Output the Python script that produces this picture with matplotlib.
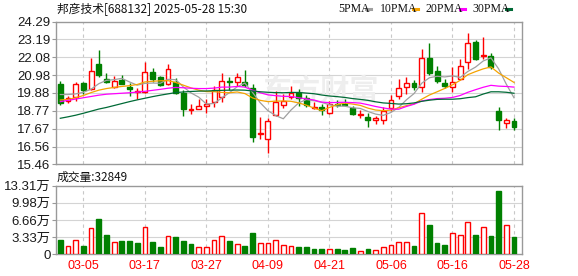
import numpy as np
import matplotlib
matplotlib.use('Agg')
import matplotlib.pyplot as plt
from matplotlib.lines import Line2D

# trading days 2025-02-28 .. 2025-05-28
dates = ['02-28', '03-03', '03-04', '03-05', '03-06', '03-07', '03-10', '03-11', '03-12', '03-13',
         '03-14', '03-17', '03-18', '03-19', '03-20', '03-21', '03-24', '03-25', '03-26', '03-27',
         '03-28', '03-31', '04-01', '04-02', '04-03', '04-07', '04-08', '04-09', '04-10', '04-11',
         '04-14', '04-15', '04-16', '04-17', '04-18', '04-21', '04-22', '04-23', '04-24', '04-25',
         '04-28', '04-29', '04-30', '05-06', '05-07', '05-08', '05-09', '05-12', '05-13', '05-14',
         '05-15', '05-16', '05-19', '05-20', '05-21', '05-22', '05-23', '05-26', '05-27', '05-28']

opens = [20.43, 19.40, 19.61, 20.49, 20.10, 21.69, 20.74, 20.27, 20.68, 20.27,
         19.96, 19.96, 21.18, 20.85, 20.43, 20.58, 19.88, 18.82, 18.86, 19.05,
         19.30, 19.61, 20.62, 20.58, 20.56, 20.16, 17.34, 17.01, 18.53, 19.14,
         19.65, 19.88, 19.57, 18.93, 19.01, 18.62, 19.22, 19.20, 18.93, 18.53,
         18.41, 18.20, 18.20, 18.93, 19.69, 20.23, 20.52, 20.27, 22.06, 21.24,
         20.52, 20.23, 20.72, 21.77, 23.05, 22.14, 22.16, 18.78, 18.04, 18.16]
highs = [20.62, 19.69, 20.54, 20.56, 22.04, 22.54, 21.12, 20.93, 20.97, 20.47,
         20.16, 21.79, 21.44, 20.93, 21.67, 20.78, 20.06, 19.17, 19.48, 19.48,
         20.33, 21.13, 20.87, 21.13, 21.30, 20.43, 18.37, 18.31, 20.02, 19.81,
         20.31, 20.12, 19.76, 19.34, 19.20, 19.38, 19.45, 19.48, 19.07, 18.84,
         18.62, 18.47, 19.01, 19.76, 20.72, 20.89, 20.68, 22.60, 22.99, 21.55,
         20.72, 21.51, 21.98, 23.57, 23.16, 23.36, 22.33, 19.01, 18.33, 18.33]
lows = [19.11, 19.24, 19.40, 19.81, 20.06, 20.85, 20.47, 20.20, 20.41, 19.71,
        19.50, 19.90, 20.58, 20.31, 20.37, 19.81, 18.47, 18.59, 18.86, 18.66,
        19.03, 19.30, 20.04, 20.31, 20.27, 16.82, 17.01, 16.19, 18.47, 18.94,
        19.53, 19.07, 19.01, 18.91, 18.49, 18.57, 19.01, 19.07, 18.53, 18.31,
        17.77, 17.98, 17.98, 18.78, 19.48, 19.81, 20.06, 19.96, 20.97, 20.49,
        20.16, 19.96, 20.68, 21.34, 21.92, 21.98, 21.34, 17.59, 17.69, 17.61]
closes = [19.28, 19.55, 20.41, 20.06, 21.24, 20.99, 20.58, 20.62, 20.45, 20.14,
          20.00, 21.15, 20.72, 20.39, 21.36, 19.88, 18.91, 18.88, 19.07, 19.22,
          20.06, 20.60, 20.56, 20.85, 20.37, 17.17, 17.38, 18.12, 19.34, 19.38,
          19.88, 19.59, 19.16, 19.01, 18.80, 19.20, 19.14, 19.12, 18.55, 18.60,
          18.20, 18.33, 18.78, 19.45, 20.16, 20.52, 20.27, 22.02, 21.13, 20.62,
          20.33, 20.56, 21.55, 22.97, 21.98, 22.23, 21.51, 18.18, 18.22, 17.75]
# volume in 10k shares
volumes = [2.75, 1.66, 2.69, 1.54, 5.12, 6.91, 3.65, 2.30, 2.50, 2.50,
           2.11, 5.31, 2.30, 1.34, 3.58, 3.26, 2.50, 1.92, 1.47, 1.47,
           2.82, 3.58, 2.50, 2.05, 1.54, 4.22, 2.24, 2.24, 2.82, 1.86,
           1.63, 1.47, 1.47, 1.09, 1.09, 1.02, 1.09, 0.90, 1.28, 0.64,
           1.09, 0.83, 1.41, 1.79, 2.43, 2.43, 1.66, 7.94, 5.70, 2.24,
           1.86, 4.10, 3.71, 6.21, 3.78, 5.38, 3.58, 12.22, 5.63, 3.2849]

ma5 = [19.78, 19.78, 19.82, 19.92, 20.11, 20.45, 20.66, 20.70, 20.78, 20.56,
       20.36, 20.47, 20.49, 20.48, 20.72, 20.70, 20.25, 19.88, 19.62, 19.19,
       19.23, 19.57, 19.90, 20.26, 20.49, 19.91, 19.27, 18.78, 18.48, 18.28,
       18.82, 19.26, 19.47, 19.40, 19.29, 19.15, 19.06, 19.06, 18.96, 18.92,
       18.73, 18.57, 18.49, 18.67, 18.98, 19.45, 19.84, 20.48, 20.82, 20.91,
       20.87, 20.93, 20.84, 21.21, 21.48, 21.86, 22.05, 21.37, 20.42, 19.58]
ma10 = [19.44, 19.48, 19.58, 19.72, 19.90, 20.05, 20.15, 20.22, 20.28, 20.33,
        20.40, 20.56, 20.60, 20.63, 20.64, 20.53, 20.36, 20.19, 20.05, 19.96,
        19.96, 19.91, 19.89, 19.94, 19.84, 19.57, 19.42, 19.34, 19.37, 19.38,
        19.36, 19.26, 19.12, 18.94, 18.78, 18.98, 19.16, 19.25, 19.19, 19.11,
        18.94, 18.82, 18.78, 18.82, 18.96, 19.09, 19.20, 19.49, 19.75, 19.95,
        20.16, 20.38, 20.66, 21.01, 21.20, 21.37, 21.49, 21.11, 20.82, 20.53]
ma20 = [19.34, 19.42, 19.50, 19.58, 19.66, 19.74, 19.80, 19.83, 19.86, 19.89,
        19.93, 19.98, 20.04, 20.10, 20.17, 20.22, 20.20, 20.17, 20.15, 20.15,
        20.18, 20.24, 20.24, 20.28, 20.24, 20.05, 19.89, 19.76, 19.71, 19.67,
        19.66, 19.58, 19.51, 19.44, 19.31, 19.28, 19.29, 19.30, 19.28, 19.25,
        19.15, 19.04, 18.95, 18.88, 18.87, 19.04, 19.18, 19.38, 19.47, 19.53,
        19.55, 19.60, 19.72, 19.92, 20.08, 20.23, 20.35, 20.30, 20.28, 20.24]
ma30 = [18.31, 18.40, 18.50, 18.62, 18.75, 18.88, 18.98, 19.10, 19.22, 19.34,
        19.45, 19.55, 19.65, 19.74, 19.82, 19.90, 19.94, 19.97, 19.99, 20.00,
        20.02, 20.04, 20.05, 20.06, 20.05, 20.00, 19.95, 19.92, 19.90, 19.89,
        19.91, 19.91, 19.87, 19.83, 19.75, 19.69, 19.65, 19.60, 19.53, 19.48,
        19.42, 19.33, 19.26, 19.23, 19.19, 19.21, 19.26, 19.36, 19.43, 19.48,
        19.49, 19.49, 19.52, 19.59, 19.64, 19.81, 19.95, 19.95, 19.92, 19.86]

price_ticks = ['15.46', '16.56', '17.67', '18.77', '19.88', '20.98', '22.08', '23.19', '24.29']
vol_ticks = [0, 3.33, 6.66, 9.98, 13.31]
vol_labels = ['0', '3.33万', '6.66万', '9.98万', '13.31万']

RED = '#ff0000'
GREEN = '#008000'
GRID = '#d4d4d4'
FRAME = '#999999'
cjk = ['Noto Sans CJK SC', 'DejaVu Sans']

x = np.arange(len(closes))
o = np.array(opens); c = np.array(closes)
up = c >= o
prev = np.concatenate([[o[0]], c[:-1]])
vol_up = c >= prev
label_idx = list(range(3, len(dates), 8))

fig = plt.figure(figsize=(5.78, 2.76), dpi=100)
ax = fig.add_axes([56/578, 111.7/276, 466/578, 142.6/276])
ax2 = fig.add_axes([56/578, 21.7/276, 466/578, 68.6/276])

for a in (ax, ax2):
    a.set_xlim(-0.56, 60.04)
    for s in a.spines.values():
        s.set_color(FRAME)
        s.set_linewidth(1)
    for i in label_idx:
        a.axvline(i, color='#c8c8c8', lw=0.8, ls=(0, (3, 3)), zorder=0)
    a.tick_params(axis='y', length=3, color=FRAME, pad=1, labelsize=9.5, labelcolor='#1a1a1a')
    a.tick_params(axis='x', length=0)

# price panel
ax.set_ylim(15.46, 24.29)
yt = [float(t) for t in price_ticks]
ax.set_yticks(yt)
ax.set_yticklabels(price_ticks, family='Liberation Sans')
for v in yt[1:-1]:
    ax.axhline(v, color=GRID, lw=0.8, zorder=0)
ax.set_xticks([])
ax.text(0.567, 0.52, '东方财富', transform=ax.transAxes, ha='center', va='center',
        fontsize=21, fontweight='bold', color='#eeeeee', family=cjk, zorder=0)

cols = np.where(up, RED, GREEN)
ax.vlines(x, lows, highs, colors=cols, lw=1, zorder=2)
body = np.maximum(np.abs(c - o), 0.04)
ax.bar(x, body, bottom=np.minimum(o, c), width=0.64,
       color=np.where(up, 'white', GREEN), edgecolor=cols, linewidth=1, zorder=3)

ma_colors = ['#a0a0a0', '#f5a300', '#ff00ff', '#006a36']
for m, col in zip([ma5, ma10, ma20, ma30], ma_colors):
    ax.plot(x, m, color=col, lw=0.9, zorder=4)

# volume panel
ax2.set_ylim(0, 13.31)
ax2.set_yticks(vol_ticks)
ax2.set_yticklabels(vol_labels, family=['Liberation Sans', 'Noto Sans CJK SC'])
for v in vol_ticks[1:-1]:
    ax2.axhline(v, color=GRID, lw=0.8, zorder=0)
vcols = np.where(vol_up, RED, GREEN)
ax2.bar(x, volumes, width=0.62, color=np.where(vol_up, 'white', GREEN),
        edgecolor=vcols, linewidth=1, zorder=3)
ax2.set_xticks(label_idx)
ax2.set_xticklabels([dates[i] for i in label_idx], color=RED, fontsize=9,
                    family='Liberation Sans')
ax2.tick_params(axis='x', pad=4)

# titles and legend
fig.text(57/578, 1 - 9/276, '邦彦技术[688132] 2025-05-28 15:30', fontsize=8.5,
         family=cjk, va='center', ha='left', color='#111111')
fig.text(57/578, 1 - 177/276, '成交量:32849', fontsize=8.5, family=cjk,
         va='center', ha='left', color='#111111')

leg_names = ['5PMA', '10PMA', '20PMA', '30PMA']
leg_x = [338, 380, 426, 472]
dash_x = [366, 413, 460, 506]
for name, lx, dx, col in zip(leg_names, leg_x, dash_x, ma_colors):
    fig.text(lx/578, 1 - 9/276, name, fontsize=8.5, family='Liberation Serif',
             va='center', ha='left', color='#111111')
    fig.add_artist(Line2D([dx/578, (dx + 5)/578], [1 - 9/276, 1 - 9/276],
                          color=col, lw=2.2, transform=fig.transFigure))

fig.savefig('out.png', dpi=100)
